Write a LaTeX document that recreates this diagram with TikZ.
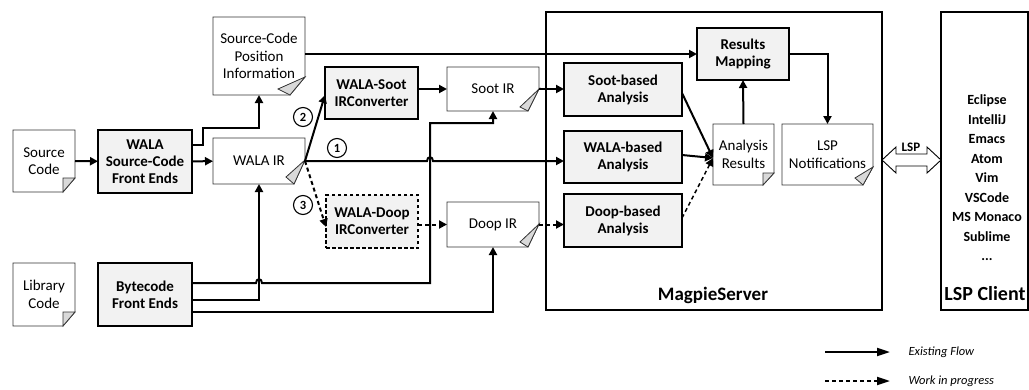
\documentclass[tikz,border=0pt]{standalone}
\usepackage{fontspec}
\setmainfont{Carlito}
\usetikzlibrary{arrows.meta,calc}
\definecolor{boxgray}{HTML}{F2F2F2}
\definecolor{foldgray}{HTML}{D9D9D9}
\tikzset{
 base/.style={font=\fontsize{15}{17.5}\selectfont, align=center, inner sep=0pt, outer sep=0pt},
 graybox/.style={base, draw, fill=boxgray, line width=2.2pt, font=\fontsize{15}{17}\selectfont\bfseries},
 dashbox/.style={graybox, dash pattern=on 3.5pt off 2.5pt},
 docnode/.style={base},
 docline/.style={line width=0.8pt, draw=black!80},
 foldtri/.style={fill=foldgray, draw=black!80, line width=0.8pt},
 flow/.style={line width=2pt, -{Triangle[length=8pt,width=8pt]}},
 wip/.style={flow, dash pattern=on 4pt off 3pt},
 bigbox/.style={draw, line width=2.6pt, inner sep=0pt, outer sep=0pt},
 numc/.style={circle, draw, line width=1.1pt, minimum size=19pt, inner sep=0pt, font=\fontsize{12.5}{13}\selectfont\bfseries},
 legtext/.style={anchor=west, font=\fontsize{12.5}{14}\selectfont\itshape},
 biglabel/.style={font=\fontsize{19}{22}\selectfont\bfseries},
}
\newcommand\docoutline[5]{%
 \draw[docline] (#1.north west) -- (#1.north east) -- ($(#1.south east)+(0,-#2)$) -- ($(#1.south east)+(-#3,0)$) -- (#1.south west) -- cycle;
 \filldraw[foldtri] ($(#1.south east)+(0,-#2)$) -- ($(#1.south east)+(-#3,0)$) -- ($(#1.south east)+(-#4,-#5)$) -- cycle;
}
\begin{document}
\begin{tikzpicture}[x=1pt,y=-1pt]
\useasboundingbox (0,0) rectangle (1029,389);
% big boxes
\node[bigbox, minimum width=336, minimum height=298] (magpie) at (714,161) {};
\node[bigbox, minimum width=87, minimum height=298] (lspclient) at (984.5,161) {};
\node[biglabel] (magpielabel) at (713,295) {MagpieServer};
\node[biglabel, font=\fontsize{20}{22}\selectfont\bfseries] (clientlabel) at (985,294) {LSP Client};
\node[base, font=\fontsize{14}{19.5}\selectfont\bfseries] (clientlist) at (987,178) {Eclipse\\IntelliJ\\Emacs\\Atom\\Vim\\VSCode\\MS Monaco\\Sublime\\...};

% document nodes
\node[docnode, minimum width=62, minimum height=62] (srccode) at (44,161) {Source\\Code};
\docoutline{srccode}{14}{12}{12}{14}
\node[docnode, minimum width=62, minimum height=63] (libcode) at (44,294.5) {Library\\Code};
\docoutline{libcode}{14}{12}{12}{14}
\node[docnode, minimum width=92, minimum height=78] (scpos) at (259,56) {Source-Code\\Position\\Information};
\docoutline{scpos}{18}{15}{27}{6}
\node[docnode, minimum width=92, minimum height=46] (walair) at (259,161) {WALA IR};
\docoutline{walair}{24}{11}{19}{7}
\node[docnode, minimum width=92, minimum height=44] (sootir) at (493,89) {Soot IR};
\docoutline{sootir}{22}{11}{19}{4}
\node[docnode, minimum width=92, minimum height=45] (doopir) at (493,224.5) {Doop IR};
\docoutline{doopir}{23}{11}{19}{5}
\node[docnode, minimum width=61, minimum height=61] (anres) at (743.5,154.5) {Analysis\\Results};
\docoutline{anres}{12}{11}{11}{12}
\node[docnode, minimum width=91, minimum height=61] (lspnot) at (827.5,154.5) {LSP\\Notifications};
\docoutline{lspnot}{18}{10}{18}{7}

% gray boxes
\node[graybox, minimum width=94, minimum height=63] (wsfe) at (145,161.5) {WALA\\Source-Code\\Front Ends};
\node[graybox, minimum width=94, minimum height=63] (bcfe) at (145,294.5) {Bytecode\\Front Ends};
\node[graybox, minimum width=93, minimum height=52] (wsconv) at (371.5,93) {WALA-Soot\\IRConverter};
\node[dashbox, minimum width=92, minimum height=53] (wdconv) at (372,221.5) {WALA-Doop\\IRConverter};
\node[graybox, minimum width=92, minimum height=52] (resmap) at (743,54) {Results\\Mapping};
\node[graybox, minimum width=118, minimum height=53] (sootan) at (623,89.5) {Soot-based\\Analysis};
\node[graybox, minimum width=118, minimum height=52] (walaan) at (623,157) {WALA-based\\Analysis};
\node[graybox, minimum width=118, minimum height=53] (doopan) at (623,220.5) {Doop-based\\Analysis};

% circled numbers
\node[numc] (n2) at (303,117) {2};
\node[numc] (n1) at (337,148) {1};
\node[numc] (n3) at (303,205) {3};

% connectors
\coordinate (wfold) at (walair.east);
\coordinate (arin) at (anres.west |- 0,158);
\draw[flow] (srccode) -- (wsfe);
\draw[flow] (wsfe) -- (walair);
\draw[flow] (wsfe.east |- 0,145) -- (203,145) -- (203,128) -| (scpos.south);
\draw[flow] (scpos.east |- resmap.west) -- (resmap.west);
\draw[flow] (wfold) -- (427,161) .. controls (427,156) and (433,156) .. (433,161) -- (walaan.west |- wfold);
\draw[flow] (wfold) -- (wsconv.west |- 0,95);
\draw[wip] (wfold) -- (wdconv.west |- 0,227);
\draw[flow] (wsconv.east |- sootir.west) -- (sootir.west);
\draw[flow] (sootir.east) -- (sootan.west |- sootir.east);
\draw[wip] (wdconv.east |- doopir.west) -- (doopir.west);
\draw[wip] (doopir.east) -- (doopan.west |- doopir.east);
\draw[flow] (bcfe.east |- 0,300) -| (walair.south);
\draw[flow] (bcfe.east |- 0,283) -- (256,283) .. controls (256,278) and (262,278) .. (262,283) -- (430,283) -- (430,123) -| (sootir.south);
\draw[flow] (bcfe.east |- 0,312) -| (doopir.south);
\draw[flow] (sootan.east |- 0,93) -- (arin);
\draw[flow] (walaan.east |- 0,155) -- (arin);
\draw[wip, line width=1.5pt] (doopan.east |- 0,218) -- (arin);
\draw[flow] (anres.north) -- (resmap.south);
\draw[flow] (resmap.east) -| (lspnot.north);

% LSP double arrow
\coordinate (lspL) at (magpie.east |- 0,160);
\coordinate (lspR) at (lspclient.west |- 0,160);
\draw[line width=0.9pt, fill=white] (lspL) -- (896,147) -- (896,154) -- (927,154) -- (927,147) -- (lspR) -- (927,173) -- (927,166) -- (896,166) -- (896,173) -- cycle;
\node[base, font=\fontsize{13}{14}\selectfont\bfseries] (lsplabel) at (911,147) {LSP};

% legend
\coordinate (leg1a) at (825,352);
\coordinate (leg1b) at (890,352);
\coordinate (leg2a) at (825,381);
\coordinate (leg2b) at (890,381);
\draw[line width=2pt, -{Triangle[length=13pt,width=8pt]}] (leg1a) -- (leg1b);
\draw[line width=2pt, dash pattern=on 4pt off 3pt, -{Triangle[length=13pt,width=8pt]}] (leg2a) -- (leg2b);
\node[legtext] (leg1t) at (905,352) {Existing Flow};
\node[legtext] (leg2t) at (905,381) {Work in progress};
\end{tikzpicture}
\end{document}
